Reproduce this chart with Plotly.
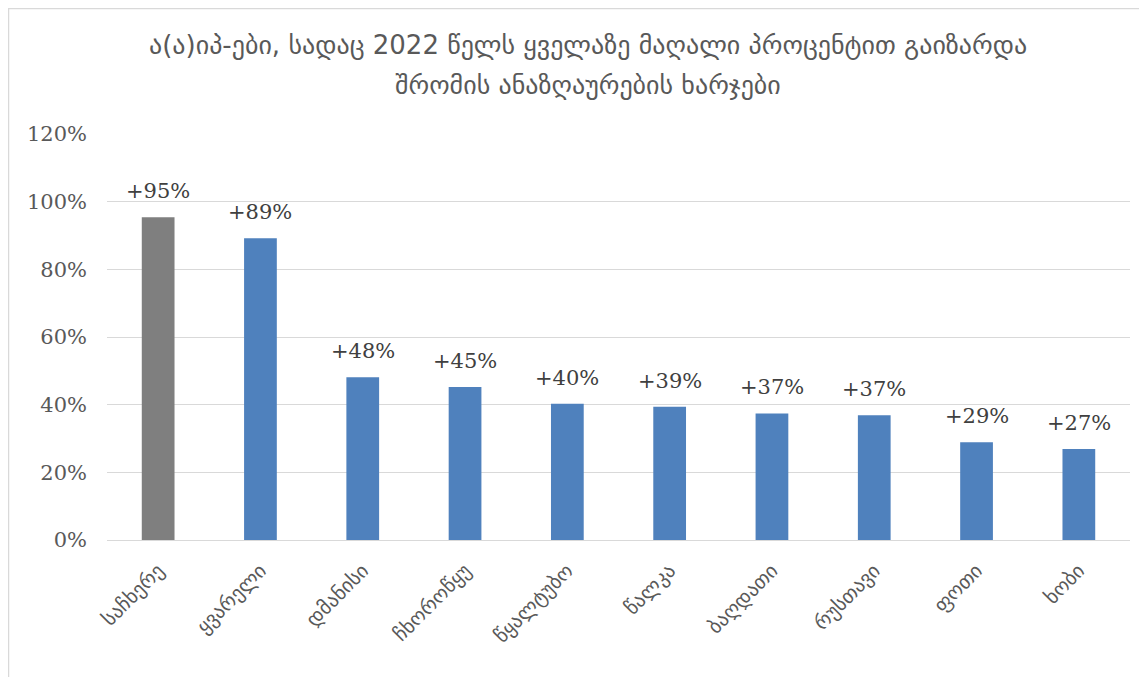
import plotly.graph_objects as go

categories = ["საჩხერე", "ყვარელი", "დმანისი", "ჩხოროწყუ", "წყალტუბო",
              "წალკა", "ბაღდათი", "რუსთავი", "ფოთი", "ხობი"]
values = [0.954, 0.892, 0.481, 0.452, 0.403, 0.394, 0.374, 0.369, 0.289, 0.269]
labels = ["+95%", "+89%", "+48%", "+45%", "+40%", "+39%", "+37%", "+37%", "+29%", "+27%"]
bar_colors = ["#7f7f7f"] + ["#4f81bd"] * 9
title_lines = ["ა(ა)იპ-ები, სადაც 2022 წელს ყველაზე მაღალი პროცენტით გაიზარდა",
               "შრომის ანაზღაურების ხარჯები"]

W, H = 1147, 677
# page has an 8px body offset; plot area sits at page x 105..1130, y 134..540
L, R, T, B = 99, 25, 126, 145
pw, ph = W - L - R, H - T - B

fig = go.Figure(go.Bar(
    x=categories, y=values,
    marker=dict(color=bar_colors, line=dict(width=0)),
    hoverinfo="x+y",
))

annotations = []
for c, v, t in zip(categories, values, labels):
    annotations.append(dict(
        x=c, y=v, xref="x", yref="y", text=t, showarrow=False,
        yanchor="bottom", yshift=12,
        font=dict(family="DejaVu Serif", size=21, color="#404040")))

title_y = [(540 - 45) / ph, (540 - 85) / ph]
for line, yy in zip(title_lines, title_y):
    annotations.append(dict(
        x=(588 - 107) / pw, y=yy, xref="paper", yref="paper", text=line,
        showarrow=False, xanchor="center", yanchor="middle",
        font=dict(family="DejaVu Sans", size=26, color="#595959")))

fig.update_layout(
    width=W, height=H,
    margin=dict(l=L, r=R, t=T, b=B),
    paper_bgcolor="white", plot_bgcolor="white",
    bargap=0.68,
    showlegend=False,
    annotations=annotations,
    yaxis=dict(range=[0, 1.2], dtick=0.2, tickformat=".0%",
               showgrid=True, gridcolor="#d9d9d9", gridwidth=1.3,
               zeroline=True, zerolinecolor="#d9d9d9", zerolinewidth=1.3,
               showline=False, ticks="", ticklen=0, ticklabelstandoff=19,
               tickfont=dict(family="DejaVu Serif", size=21, color="#595959")),
    xaxis=dict(tickangle=-45, showgrid=False, showline=False, ticks="",
               ticklabelstandoff=14,
               tickfont=dict(family="DejaVu Sans", size=20, color="#595959")),
    shapes=[
        dict(type="rect", xref="paper", yref="paper",
             x0=(0.5 - L) / pw, x1=(W - 0.5 - L) / pw,
             y0=-(B - 0.5) / ph, y1=(ph + T - 0.5) / ph,
             line=dict(color="#d9d9d9", width=1.5), fillcolor="rgba(0,0,0,0)",
             layer="below"),
    ],
)

fig.write_html("out.html")
